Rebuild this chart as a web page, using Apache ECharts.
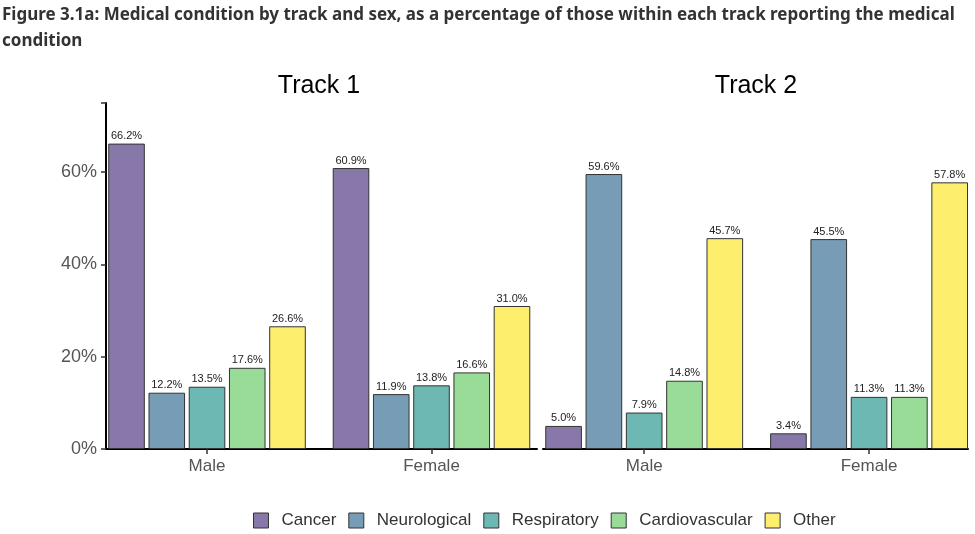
<!DOCTYPE html>
<html><head><meta charset="utf-8">
<script src="https://cdn.jsdelivr.net/npm/echarts@6/dist/echarts.min.js"></script>
<style>html,body{margin:0;padding:0;background:#fff}#c{width:975px;height:534px}</style>
</head><body><div id="c"></div>
<script>
const sexes = ['Male', 'Female'];
const conditions = ['Cancer', 'Neurological', 'Respiratory', 'Cardiovascular', 'Other'];
const colors = ['#8878AA', '#779CB5', '#6EB8B4', '#98DC98', '#FEEE6E'];
// values per condition: [Male, Female]
const track1 = {
  Cancer: [66.2, 60.9],
  Neurological: [12.2, 11.9],
  Respiratory: [13.5, 13.8],
  Cardiovascular: [17.6, 16.6],
  Other: [26.6, 31.0]
};
const track2 = {
  Cancer: [5.0, 3.4],
  Neurological: [59.6, 45.5],
  Respiratory: [7.9, 11.3],
  Cardiovascular: [14.8, 11.3],
  Other: [45.7, 57.8]
};
const yTicks = [0, 20, 40, 60];

const chart = echarts.init(document.getElementById('c'));
const font = 'Liberation Sans, Arial, sans-serif';
function mkSeries(track, idx) {
  return conditions.map((c, i) => ({
    name: c, type: 'bar', xAxisIndex: idx, yAxisIndex: idx,
    data: track[c].map((v, k) => [k, v]),
    barGap: '10%', barCategoryGap: '12%',
    itemStyle: { color: colors[i], borderColor: '#333', borderWidth: 1 },
    label: { show: true, position: 'top', distance: 2, fontFamily: font, fontSize: 11, color: '#222',
      formatter: p => p.value[1].toFixed(1) + '%' },
    emphasis: { disabled: true }
  }));
}
const sexIdx = sexes.map((s, k) => k);
const xAx = (idx, mx) => ({
  type: 'value', gridIndex: idx, min: -0.45, max: mx,
  splitLine: { show: false },
  axisLine: { show: true, onZero: false, lineStyle: { color: '#000', width: 2 } },
  axisTick: { show: true, customValues: sexIdx, length: 5, lineStyle: { color: '#333', width: 1.5 } },
  axisLabel: { customValues: sexIdx, fontFamily: font, fontSize: 17, color: '#555', margin: 9,
    formatter: v => sexes[Math.round(v)] }
});
chart.setOption({
  animation: false,
  title: [
    { text: 'Figure 3.1a: Medical condition by track and sex, as a percentage of those within each track reporting the medical\ncondition',
      left: -3, top: -3, textStyle: { fontFamily: 'Noto Sans', fontWeight: 'bold', fontSize: 17, color: '#333', lineHeight: 26 } },
    { text: 'Track 1', left: 314, top: 69, textAlign: 'center', textStyle: { fontFamily: font, fontWeight: 'normal', fontSize: 25, color: '#000' } },
    { text: 'Track 2', left: 751, top: 69, textAlign: 'center', textStyle: { fontFamily: font, fontWeight: 'normal', fontSize: 25, color: '#000' } }
  ],
  legend: {
    data: conditions, bottom: 0, left: 248, icon: 'rect', itemWidth: 15, itemHeight: 15, itemGap: 12,
    textStyle: { fontFamily: font, fontSize: 17, color: '#333', padding: [0, 0, 0, 8] },
    itemStyle: { borderColor: '#333', borderWidth: 1 }
  },
  grid: [
    { left: 106, right: 438, top: 103, bottom: 85 },
    { left: 543, right: 7, top: 103, bottom: 85 }
  ],
  xAxis: [xAx(0, 1.47), xAx(1, 1.44)],
  yAxis: [
    { type: 'value', gridIndex: 0, min: 0, max: 75, interval: 20,
      splitLine: { show: false },
      axisLine: { show: true, onZero: false, lineStyle: { color: '#000', width: 2 } },
      axisTick: { show: true, length: 5, lineStyle: { color: '#333', width: 1.5 } },
      axisLabel: { fontFamily: font, fontSize: 18, color: '#555', margin: 9,
        formatter: v => yTicks.includes(v) ? v + '%' : '' } },
    { type: 'value', gridIndex: 1, min: 0, max: 75, interval: 20,
      splitLine: { show: false }, axisLine: { show: false }, axisTick: { show: false }, axisLabel: { show: false } }
  ],
  series: [...mkSeries(track1, 0), ...mkSeries(track2, 1)]
});
</script></body></html>
